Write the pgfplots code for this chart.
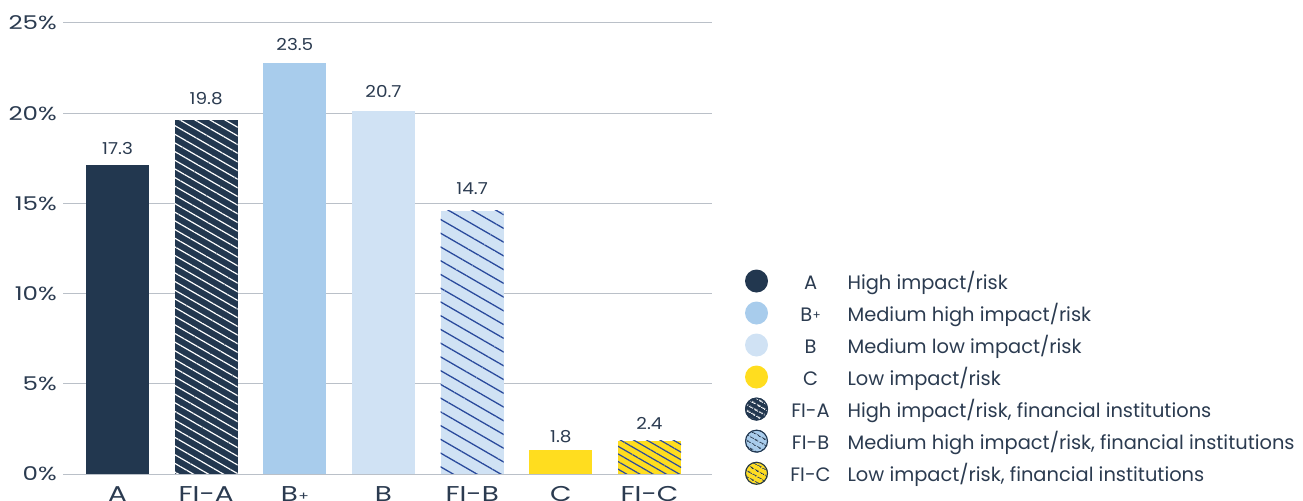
\documentclass[border=0pt]{standalone}
\usepackage{pgfplots}
\pgfplotsset{compat=1.18}
\usetikzlibrary{patterns.meta}
\usepackage{fontspec}
\setmainfont{Poppins}
\newfontfamily\wide[FakeStretch=1.3]{Poppins}
\newfontfamily\semiwide[FakeStretch=1.12]{Poppins}

\definecolor{navy}{HTML}{22374F}
\definecolor{bplus}{HTML}{A8CCEC}
\definecolor{bpale}{HTML}{D0E2F4}
\definecolor{cyel}{HTML}{FFDD1F}
\definecolor{hatchblue}{HTML}{2A4A9C}
\definecolor{txt}{HTML}{2B3B50}
\definecolor{gridc}{HTML}{BAC0C8}

\newcommand{\Bplus}{B\kern0.5bp\raisebox{1.5bp}{\fontsize{12}{12}\selectfont+}}
\newcommand{\code}[1]{\makebox[72bp][c]{#1}\hspace{1bp}}
% legend circle with stripes
\newcommand{\hatchdot}[3]{%
  \fill[#1, draw=none] (0bp,0bp) circle (11.5bp);
  \fill[draw=none, pattern={Lines[angle=-30, distance=5.2bp, line width=1bp]}, pattern color=#2] (0bp,0bp) circle (11.5bp);
  \draw[#3, fill=none, line width=1.1bp] (0bp,0bp) circle (11bp);}

\begin{document}
\begin{tikzpicture}
\begin{axis}[
  at={(0,0)}, anchor=south west,
  scale only axis, width=649bp, height=451bp,
  xmin=-0.615, xmax=6.705, ymin=0, ymax=25,
  axis line style={draw=none},
  major tick length=0pt,
  ytick={0,5,...,25},
  yticklabel={\pgfmathprintnumber{\tick}\%},
  /pgf/number format/assume math mode=true,
  yticklabel style={anchor=east, inner sep=0pt, xshift=-6bp,
    font=\wide\fontsize{19}{19}\selectfont, text=txt},
  ymajorgrids, major grid style={gridc, line width=1bp},
  extra y ticks={0}, extra y tick labels={},
  extra y tick style={grid style={gridc, line width=2bp}},
  xtick={0,...,6},
  xticklabels={A,FI-A,\Bplus,B,FI-B,C,FI-C},
  xticklabel style={anchor=north, inner sep=0pt, yshift=-12.5bp,
    font=\wide\fontsize{21.5}{21.5}\selectfont, text=txt},
  legend style={draw=none, fill=none, inner sep=0pt, outer sep=0pt,
    at={(axis description cs:1.0508,0.4534)}, anchor=north west,
    row sep=9bp, column sep=6.5bp,
    font=\fontsize{19.5}{19.5}\selectfont, text=txt,
    cells={anchor=west}, nodes={inner sep=0pt}},
  legend cell align=left,
]

% bars, in legend order
\addplot[ybar, bar width=63bp, bar shift=0pt, draw=none, fill=navy,
  legend image code/.code={\fill[navy] (0bp,0bp) circle (11.5bp);}]
  coordinates {(0,17.13)};
\addlegendentry{\code{A}High impact/risk}

\addplot[ybar, bar width=63bp, bar shift=0pt, draw=none, fill=bplus,
  legend image code/.code={\fill[bplus] (0bp,0bp) circle (11.5bp);}]
  coordinates {(2,22.78)};
\addlegendentry{\code{\Bplus}Medium high impact/risk}

\addplot[ybar, bar width=63bp, bar shift=0pt, draw=none, fill=bpale,
  legend image code/.code={\fill[bpale] (0bp,0bp) circle (11.5bp);}]
  coordinates {(3,20.12)};
\addlegendentry{\code{B}Medium low impact/risk}

\addplot[ybar, bar width=63bp, bar shift=0pt, draw=none, fill=cyel,
  legend image code/.code={\fill[cyel] (0bp,0bp) circle (11.5bp);}]
  coordinates {(5,1.33)};
\addlegendentry{\code{C}Low impact/risk}

\addplot[ybar, bar width=63bp, bar shift=0pt, draw=none, fill=navy,
  legend image code/.code={\hatchdot{navy}{white}{navy}}]
  coordinates {(1,19.62)};
\addlegendentry{\code{FI-A}High impact/risk, financial institutions}

\addplot[ybar, bar width=63bp, bar shift=0pt, draw=none, fill=bpale,
  legend image code/.code={\hatchdot{bplus}{navy}{navy}}]
  coordinates {(4,14.58)};
\addlegendentry{\code{FI-B}Medium high impact/risk, financial institutions}

\addplot[ybar, bar width=63bp, bar shift=0pt, draw=none, fill=cyel,
  legend image code/.code={\hatchdot{cyel}{navy}{navy}}]
  coordinates {(6,1.83)};
\addlegendentry{\code{FI-C}Low impact/risk, financial institutions}

% hatching over the FI bars
\addplot[forget plot, ybar, bar width=63bp, bar shift=0pt, draw=none,
  pattern={Lines[angle=-30, distance=7.5bp, line width=1.2bp]}, pattern color=white]
  coordinates {(1,19.62)};
\addplot[forget plot, ybar, bar width=63bp, bar shift=0pt, draw=none,
  pattern={Lines[angle=-30, distance=11.9bp, line width=1.3bp]}, pattern color=hatchblue]
  coordinates {(4,14.58)};
\addplot[forget plot, ybar, bar width=63bp, bar shift=0pt, draw=none,
  pattern={Lines[angle=-30, distance=6.6bp, line width=1.2bp]}, pattern color=hatchblue]
  coordinates {(6,1.83)};

% value labels
\addplot[forget plot, draw=none, mark=none, nodes near coords,
  point meta=explicit symbolic,
  nodes near coords style={anchor=south, inner sep=0pt,
    font=\semiwide\fontsize{16.5}{16.5}\selectfont, text=txt}]
  coordinates {(0,17.68)[17.3] (1,20.45)[19.8] (2,23.46)[23.5]
    (3,20.84)[20.7] (4,15.47)[14.7] (5,1.73)[1.8] (6,2.44)[2.4]};
\end{axis}
\pgfresetboundingbox
\path[use as bounding box] (-63bp,-27bp) rectangle (1240bp,474bp);
\end{tikzpicture}
\end{document}
